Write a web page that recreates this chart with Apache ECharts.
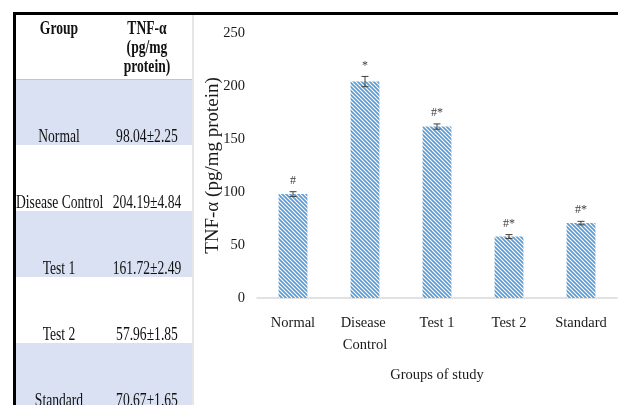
<!DOCTYPE html>
<html>
<head>
<meta charset="utf-8">
<title>TNF-α by group</title>
<script src="https://cdn.jsdelivr.net/npm/echarts@6/dist/echarts.min.js"></script>
<style>
  html, body { margin: 0; padding: 0; background: #fff; }
  #stage {
    position: relative; width: 618px; height: 405px; overflow: hidden;
    font-family: "Liberation Serif", "Times New Roman", serif; color: #000;
  }
  #chart { position: absolute; left: 0; top: 0; width: 618px; height: 405px; }
  #frameTop { position: absolute; left: 13px; top: 12px; width: 605px; height: 3px; background: #000; }
  #frameLeft { position: absolute; left: 13px; top: 12px; width: 3px; height: 393px; background: #000; }
  #divider { position: absolute; left: 192px; top: 15px; width: 2px; height: 390px; background: #e6e6e6; }
  #table { position: absolute; left: 16px; top: 15px; width: 176px; height: 390px; }
  .row { position: absolute; left: 0; width: 176px; }
  .band { background: #d9e1f2; }
  .first { border-top: 1px solid #b4c6e7; box-sizing: border-box; }
  .cell {
    position: absolute; bottom: -2px; text-align: center; white-space: nowrap;
    font-size: 13.6px; line-height: 16px; color: #111;
    transform: scaleY(1.35); transform-origin: 50% 100%;
  }
  .c1 { left: 0; width: 86px; }
  .c2 { left: 86px; width: 90px; }
  .head .cell {
    top: 4px; bottom: auto; font-weight: bold; line-height: 14.2px;
    transform-origin: 50% 0;
  }
</style>
</head>
<body>
<div id="stage">
  <div id="chart"></div>
  <div id="table"></div>
  <div id="divider"></div>
  <div id="frameTop"></div>
  <div id="frameLeft"></div>
</div>
<script>
// TNF-α levels (pg/mg protein), mean ± SEM per study group
const groups = ['Normal', 'Disease Control', 'Test 1', 'Test 2', 'Standard'];
const tnfMeans = [98.04, 204.19, 161.72, 57.96, 70.67];
const tnfErrors = [2.25, 4.84, 2.49, 1.85, 1.65];
const significance = ['#', '*', '#*', '#*', '#*'];
const yTicks = [0, 50, 100, 150, 200, 250];

const serif = '"Liberation Serif", "Times New Roman", serif';

// ---- summary table on the left ----
(function buildTable() {
  const table = document.getElementById('table');
  const headH = 64, rowH = 66;

  const head = document.createElement('div');
  head.className = 'row head';
  head.style.top = '0px';
  head.style.height = headH + 'px';
  head.innerHTML =
    '<div class="cell c1">Group</div>' +
    '<div class="cell c2">TNF-α<br>(pg/mg<br>protein)</div>';
  table.appendChild(head);

  groups.forEach((g, i) => {
    const row = document.createElement('div');
    row.className = 'row' + (i % 2 === 0 ? ' band' : '') + (i === 0 ? ' first' : '');
    row.style.top = (headH + rowH * i) + 'px';
    row.style.height = rowH + 'px';
    const c1 = document.createElement('div');
    c1.className = 'cell c1';
    c1.textContent = g;
    const c2 = document.createElement('div');
    c2.className = 'cell c2';
    c2.textContent = tnfMeans[i].toFixed(2) + '±' + tnfErrors[i].toFixed(2);
    row.appendChild(c1);
    row.appendChild(c2);
    table.appendChild(row);
  });
})();

// ---- diagonal hatch fill for the bars ----
function hatchPattern() {
  const s = 4;
  const c = document.createElement('canvas');
  c.width = s; c.height = s;
  const g = c.getContext('2d');
  g.fillStyle = '#ffffff';
  g.fillRect(0, 0, s, s);
  g.strokeStyle = '#5b9bd5';
  g.lineWidth = 1.7;
  g.beginPath();
  g.moveTo(-1, -1); g.lineTo(s + 1, s + 1);
  g.moveTo(s - 1, -1); g.lineTo(s + 1, 1);
  g.moveTo(-1, s - 1); g.lineTo(1, s + 1);
  g.stroke();
  return c;
}

const chart = echarts.init(document.getElementById('chart'), null, { renderer: 'canvas' });

const textColor = '#1a1a1a';

const option = {
  animation: false,
  backgroundColor: 'transparent',
  grid: { left: 257, right: 1, top: 33, bottom: 107, containLabel: false },
  xAxis: {
    type: 'category',
    data: groups,
    name: 'Groups of study',
    nameLocation: 'middle',
    nameGap: 70,
    nameMoveOverlap: false,
    nameTextStyle: { fontFamily: serif, fontSize: 14.5, color: textColor },
    axisLine: { show: true, lineStyle: { color: '#d9d9d9', width: 1.5 } },
    axisTick: { show: false },
    axisLabel: {
      interval: 0,
      margin: 14,
      fontFamily: serif,
      fontSize: 14.5,
      lineHeight: 22,
      color: textColor,
      width: 62,
      overflow: 'break'
    }
  },
  yAxis: {
    type: 'value',
    min: yTicks[0],
    max: yTicks[yTicks.length - 1],
    interval: yTicks[1] - yTicks[0],
    name: 'TNF-α (pg/mg protein)',
    nameLocation: 'middle',
    nameGap: 34,
    nameMoveOverlap: false,
    nameTextStyle: { fontFamily: serif, fontSize: 19, color: textColor },
    axisLine: { show: false },
    axisTick: { show: false },
    splitLine: { show: false },
    axisLabel: { margin: 12, fontFamily: serif, fontSize: 14.5, color: textColor }
  },
  series: [
    {
      type: 'bar',
      data: tnfMeans,
      barWidth: '40%',
      itemStyle: { color: { image: hatchPattern(), repeat: 'repeat' } }
    },
    {
      type: 'custom',
      data: groups.map((g, i) => [i, tnfMeans[i], tnfErrors[i]]),
      encode: { x: 0, y: 1 },
      z: 10,
      renderItem(params, api) {
        const x = api.value(0), m = api.value(1), e = api.value(2);
        const hi = api.coord([x, m + e]);
        const lo = api.coord([x, m - e]);
        const cap = 3.5;
        const stroke = { stroke: '#404040', lineWidth: 1 };
        return {
          type: 'group',
          children: [
            { type: 'line', shape: { x1: hi[0], y1: hi[1], x2: lo[0], y2: lo[1] }, style: stroke },
            { type: 'line', shape: { x1: hi[0] - cap, y1: hi[1], x2: hi[0] + cap, y2: hi[1] }, style: stroke },
            { type: 'line', shape: { x1: lo[0] - cap, y1: lo[1], x2: lo[0] + cap, y2: lo[1] }, style: stroke },
            {
              type: 'text',
              x: hi[0], y: hi[1] - 5,
              style: {
                text: significance[params.dataIndex],
                align: 'center', verticalAlign: 'bottom',
                fontFamily: serif, fontSize: 12, fill: '#404040'
              }
            }
          ]
        };
      }
    }
  ]
};

chart.setOption(option);
</script>
</body>
</html>
